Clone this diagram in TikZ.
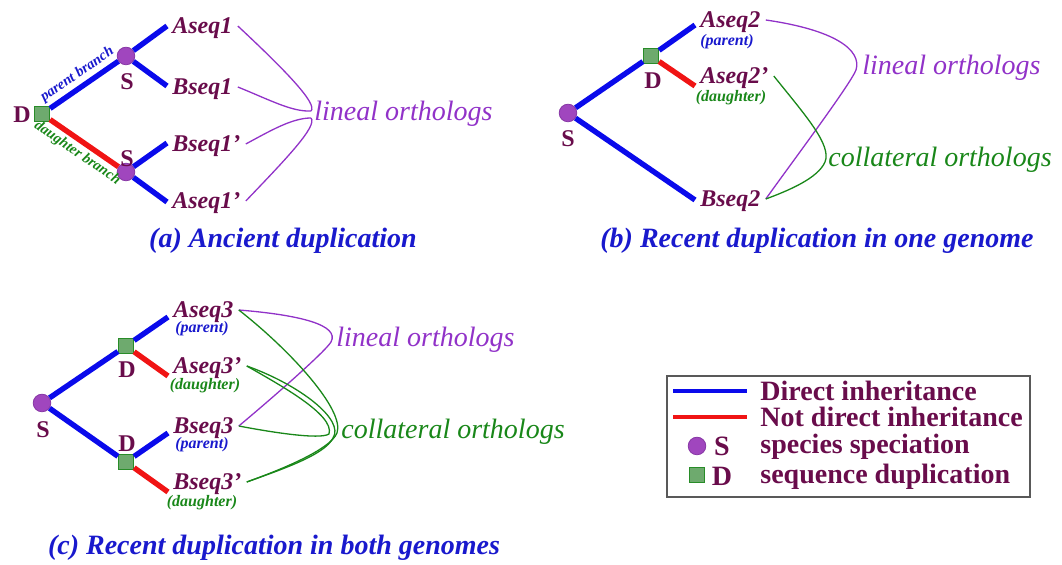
\documentclass[tikz,border=0pt]{standalone}
\usepackage{fontspec}
\setmainfont{Liberation Serif}
\usepackage{xcolor}
\usepackage{tikz}
\definecolor{seqcolor}{RGB}{105,12,75}
\definecolor{capblue}{RGB}{25,25,205}
\definecolor{inhblue}{RGB}{10,10,235}
\definecolor{inhred}{RGB}{240,20,20}
\definecolor{linealcolor}{RGB}{145,50,200}
\definecolor{collcolor}{RGB}{25,135,25}
\definecolor{specfill}{RGB}{160,70,190}
\definecolor{specdraw}{RGB}{135,55,165}
\definecolor{dupfill}{RGB}{110,170,110}
\definecolor{dupdraw}{RGB}{40,140,40}

\begin{document}
\begin{tikzpicture}[
    x=0.5pt, y=-0.5pt,
    dirline/.style={line width=2.7pt, draw=inhblue},
    nondirline/.style={line width=2.7pt, draw=inhred},
    specnode/.style={circle, fill=specfill, draw=specdraw, line width=0.4pt, minimum size=8.8pt, inner sep=0pt},
    dupnode/.style={rectangle, fill=dupfill, draw=dupdraw, line width=0.5pt, minimum size=7.6pt, inner sep=0pt},
    evlabel/.style={font=\fontsize{12}{14}\selectfont\bfseries, text=seqcolor, inner sep=0pt, text height=8pt, text depth=0pt},
    seqlabel/.style={font=\fontsize{12}{14}\selectfont\bfseries\itshape, text=seqcolor, anchor=west, inner xsep=2.5pt, inner ysep=1pt, text height=8pt, text depth=0pt},
    rolelabel/.style={font=\fontsize{8}{9}\selectfont\bfseries\itshape, inner sep=0pt},
    brlabel/.style={font=\fontsize{7.3}{8}\selectfont\bfseries\itshape, inner sep=1.5pt},
    orthlabel/.style={font=\fontsize{14}{16}\selectfont\itshape, anchor=west, inner sep=0pt},
    captext/.style={font=\fontsize{14}{16}\selectfont\bfseries\itshape, text=capblue},
    lineal/.style={draw=linealcolor, line width=0.65pt},
    collateral/.style={draw=collcolor, line width=0.65pt},
    legtext/.style={font=\fontsize{14}{16}\selectfont\bfseries, text=seqcolor, anchor=west, inner sep=0pt, text height=9pt, text depth=0pt}
]
    \useasboundingbox (0,0) rectangle (1062,565);

    % (a) Ancient duplication
    \node[dupnode] (dA) at (42,114) {};
    \node[evlabel] (dAl) at (22,115) {D};
    \node[specnode] (sA1) at (126,56) {};
    \node[evlabel] (sA1l) at (127,82) {S};
    \node[specnode] (sA2) at (126,172) {};
    \node[evlabel] (sA2l) at (127,159) {S};
    \coordinate (eA1) at (167,26);
    \coordinate (eA2) at (167,86);
    \coordinate (eA3) at (167,143);
    \coordinate (eA4) at (167,202);

    \draw[dirline] (dA) -- node[brlabel, above, sloped, text=capblue] {parent branch} (sA1);
    \draw[nondirline] (dA) -- node[brlabel, below, sloped, text=collcolor] {daughter branch} (sA2);
    \draw[dirline] (sA1) -- (eA1);
    \draw[dirline] (sA1) -- (eA2);
    \draw[dirline] (sA2) -- (eA3);
    \draw[dirline] (sA2) -- (eA4);

    \node[seqlabel] (aA1) at (167,26) {Aseq1};
    \node[seqlabel] (bA1) at (167,87) {Bseq1};
    \node[seqlabel] (bA2) at (167,144) {Bseq1'};
    \node[seqlabel] (aA2) at (167,201) {Aseq1'};

    \coordinate (tA1) at (311,111);
    \coordinate (tA2) at (311,118);
    \draw[lineal] (aA1.east) .. controls (285,70) and (318,104) .. (tA1);
    \draw[lineal] (bA1.east) .. controls (270,100) and (292,112) .. (tA1);
    \draw[lineal] (bA2.east) .. controls (270,131) and (292,118) .. (tA2);
    \draw[lineal] (aA2.east) .. controls (285,160) and (318,126) .. (tA2);
    \node[orthlabel, text=linealcolor] (lA) at (314,114) {lineal orthologs};

    \node[captext] (capA) at (283,241) {(a) Ancient duplication};

    % (b) Recent duplication in one genome
    \node[specnode] (sB) at (568,113) {};
    \node[evlabel] (sBl) at (568,139) {S};
    \node[dupnode] (dB) at (651,56) {};
    \node[evlabel] (dBl) at (653,81) {D};
    \coordinate (eB1) at (695,25);
    \coordinate (eB2) at (695,86);
    \coordinate (eB3) at (695,200);

    \draw[dirline] (sB) -- (dB);
    \draw[dirline] (sB) -- (eB3);
    \draw[dirline] (dB) -- (eB1);
    \draw[nondirline] (dB) -- (eB2);

    \node[seqlabel] (aB1) at (695,20) {Aseq2};
    \node[rolelabel, text=capblue] (aB1r) at (727,42) {(parent)};
    \node[seqlabel] (aB2) at (695,76) {Aseq2'};
    \node[rolelabel, text=collcolor] (aB2r) at (731,98) {(daughter)};
    \node[seqlabel] (bB1) at (695,199) {Bseq2};

    \coordinate (hB1) at (856,70);
    \coordinate (hB2) at (825,162);
    \draw[lineal] (aB1.east) .. controls (835,30) and (862,50) .. (hB1) .. controls (850,85) and (790,165) .. (bB1.east);
    \draw[collateral] (aB2.east) .. controls (805,115) and (832,145) .. (hB2) .. controls (818,178) and (790,190) .. (bB1.east);
    \node[orthlabel, text=linealcolor] (lB) at (862,68) {lineal orthologs};
    \node[orthlabel, text=collcolor] (cB) at (828,160) {collateral orthologs};

    \node[captext] (capB) at (817,241) {(b) Recent duplication in one genome};

    % (c) Recent duplication in both genomes
    \node[specnode] (sC) at (42,403) {};
    \node[evlabel] (sCl) at (43,430) {S};
    \node[dupnode] (dC1) at (126,346) {};
    \node[evlabel] (dC1l) at (127,370) {D};
    \node[dupnode] (dC2) at (126,462) {};
    \node[evlabel] (dC2l) at (127,444) {D};
    \coordinate (eC1) at (168,317);
    \coordinate (eC2) at (168,376);
    \coordinate (eC3) at (168,433);
    \coordinate (eC4) at (168,492);

    \draw[dirline] (sC) -- (dC1);
    \draw[dirline] (sC) -- (dC2);
    \draw[dirline] (dC1) -- (eC1);
    \draw[nondirline] (dC1) -- (eC2);
    \draw[dirline] (dC2) -- (eC3);
    \draw[nondirline] (dC2) -- (eC4);

    \node[seqlabel] (aC1) at (168,310) {Aseq3};
    \node[rolelabel, text=capblue] (aC1r) at (202,329) {(parent)};
    \node[seqlabel] (aC2) at (168,366) {Aseq3'};
    \node[rolelabel, text=collcolor] (aC2r) at (205,386) {(daughter)};
    \node[seqlabel] (bC1) at (168,426) {Bseq3};
    \node[rolelabel, text=capblue] (bC1r) at (202,445) {(parent)};
    \node[seqlabel] (bC2) at (168,482) {Bseq3'};
    \node[rolelabel, text=collcolor] (bC2r) at (202,503) {(daughter)};

    \coordinate (hC1) at (331,342);
    \coordinate (hC2) at (337,433);
    \coordinate (hC3) at (329,434);
    \coordinate (hC4) at (333,438);
    \draw[lineal] (aC1.east) .. controls (300,315) and (340,325) .. (hC1) .. controls (325,352) and (270,400) .. (bC1.east);
    \draw[collateral] (aC1.east) .. controls (290,350) and (345,410) .. (hC2) .. controls (330,450) and (280,470) .. (bC2.east);
    \draw[collateral] (aC2.east) .. controls (280,385) and (335,415) .. (hC3) .. controls (320,440) and (270,432) .. (bC1.east);
    \draw[collateral] (aC2.east) .. controls (300,385) and (345,420) .. (hC4) .. controls (325,455) and (280,470) .. (bC2.east);
    \node[orthlabel, text=linealcolor] (lC) at (336,340) {lineal orthologs};
    \node[orthlabel, text=collcolor] (cC) at (341,432) {collateral orthologs};

    \node[captext] (capC) at (274,548) {(c) Recent duplication in both genomes};

    % Legend
    \draw[draw=black!65, line width=0.6pt] (667,376) rectangle (1030,497);
    \draw[line width=2pt, draw=inhblue] (673,391) -- (747,391);
    \draw[line width=2pt, draw=inhred] (673,417) -- (747,417);
    \node[specnode] (legS) at (697,446) {};
    \node[legtext, anchor=center] (legSl) at (722,447) {S};
    \node[dupnode] (legD) at (697,475) {};
    \node[legtext, anchor=center] (legDl) at (722,477) {D};
    \node[legtext] (leg1) at (760,392) {Direct inheritance};
    \node[legtext] (leg2) at (760,418) {Not direct inheritance};
    \node[legtext] (leg3) at (760,445) {species speciation};
    \node[legtext] (leg4) at (760,475) {sequence duplication};
\end{tikzpicture}
\end{document}
